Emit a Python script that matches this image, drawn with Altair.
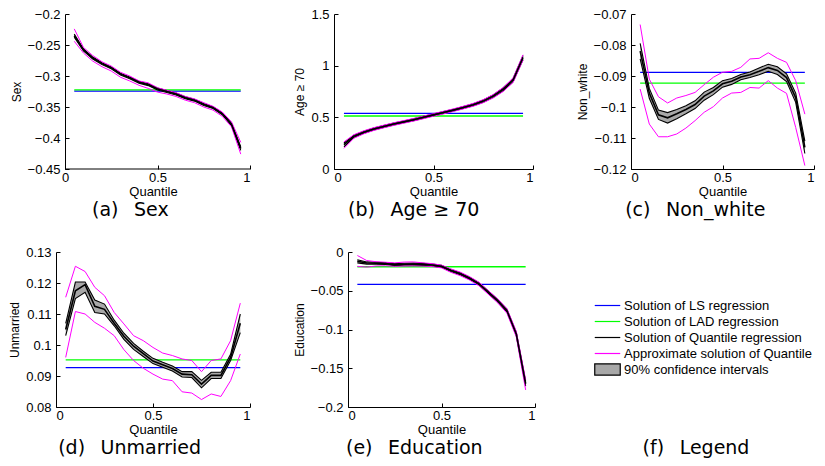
import altair as alt
import pandas as pd

Q = [0.05, 0.10, 0.15, 0.20, 0.25, 0.30, 0.35, 0.40, 0.45, 0.50,
     0.55, 0.60, 0.65, 0.70, 0.75, 0.80, 0.85, 0.90, 0.95]

# (a) Sex
SEX_C = [-0.235, -0.258, -0.271, -0.280, -0.287, -0.297, -0.303, -0.310, -0.314, -0.321,
         -0.325, -0.329, -0.335, -0.339, -0.346, -0.351, -0.361, -0.378, -0.417]
SEX_HI = [-0.2325, -0.2565, -0.2695, -0.2785, -0.2855, -0.2955, -0.3015, -0.3085, -0.3125, -0.3195,
          -0.3235, -0.3275, -0.3335, -0.3375, -0.3445, -0.3495, -0.3595, -0.3760, -0.4140]
SEX_LO = [-0.2375, -0.2595, -0.2725, -0.2815, -0.2885, -0.2985, -0.3045, -0.3115, -0.3155, -0.3225,
          -0.3265, -0.3305, -0.3365, -0.3405, -0.3475, -0.3525, -0.3625, -0.3800, -0.4200]
SEX_MHI = [-0.224, -0.254, -0.267, -0.277, -0.284, -0.294, -0.300, -0.308, -0.311, -0.319,
           -0.323, -0.327, -0.333, -0.337, -0.343, -0.349, -0.358, -0.374, -0.407]
SEX_MLO = [-0.244, -0.263, -0.276, -0.285, -0.292, -0.302, -0.308, -0.315, -0.320, -0.326,
           -0.329, -0.333, -0.339, -0.343, -0.350, -0.355, -0.365, -0.382, -0.426]
SEX_LS, SEX_LAD = -0.3245, -0.3223

# (b) Age >= 70
AGE_C = [0.235, 0.316, 0.356, 0.387, 0.412, 0.435, 0.456, 0.477, 0.500, 0.524,
         0.546, 0.570, 0.595, 0.622, 0.657, 0.705, 0.770, 0.860, 1.080]
AGE_HI = [0.252, 0.327, 0.366, 0.396, 0.421, 0.444, 0.465, 0.486, 0.509, 0.533,
          0.555, 0.579, 0.604, 0.632, 0.668, 0.717, 0.784, 0.876, 1.098]
AGE_LO = [0.215, 0.305, 0.346, 0.378, 0.403, 0.426, 0.447, 0.468, 0.491, 0.515,
          0.537, 0.561, 0.586, 0.612, 0.646, 0.693, 0.756, 0.844, 1.060]
AGE_MHI = [0.262, 0.332, 0.370, 0.400, 0.424, 0.447, 0.468, 0.489, 0.512, 0.536,
           0.558, 0.582, 0.607, 0.635, 0.671, 0.720, 0.788, 0.880, 1.105]
AGE_MLO = [0.200, 0.298, 0.341, 0.373, 0.399, 0.422, 0.443, 0.464, 0.487, 0.511,
           0.533, 0.557, 0.582, 0.608, 0.642, 0.688, 0.750, 0.838, 1.055]
AGE_LS, AGE_LAD = 0.539, 0.513

# (c) Non_white
NW_C = [-0.0820, -0.0955, -0.1025, -0.1035, -0.1022, -0.1008, -0.0992, -0.0965, -0.0948, -0.0925,
        -0.0917, -0.0903, -0.0896, -0.0885, -0.0873, -0.0882, -0.0905, -0.0970, -0.1130]
NW_HI = [-0.0795, -0.0940, -0.1010, -0.1018, -0.1008, -0.0996, -0.0980, -0.0952, -0.0937, -0.0915,
         -0.0908, -0.0895, -0.0887, -0.0874, -0.0862, -0.0870, -0.0893, -0.0955, -0.1110]
NW_LO = [-0.0845, -0.0972, -0.1040, -0.1052, -0.1038, -0.1022, -0.1005, -0.0978, -0.0960, -0.0936,
         -0.0927, -0.0912, -0.0905, -0.0896, -0.0885, -0.0895, -0.0918, -0.0985, -0.1150]
NW_MHI = [-0.0734, -0.0910, -0.0967, -0.0987, -0.0971, -0.0963, -0.0953, -0.0928, -0.0904, -0.0888,
          -0.0885, -0.0872, -0.0845, -0.0843, -0.0825, -0.0843, -0.0856, -0.0915, -0.1023]
NW_MLO = [-0.0942, -0.1055, -0.1096, -0.1096, -0.1087, -0.1068, -0.1044, -0.1017, -0.0999, -0.0971,
          -0.0955, -0.0953, -0.0937, -0.0939, -0.0915, -0.0939, -0.0956, -0.1066, -0.1189]
NW_LS, NW_LAD = -0.0888, -0.0923

# (d) Unmarried
UM_C = [0.1050, 0.1175, 0.1195, 0.1125, 0.1115, 0.1070, 0.1028, 0.0996, 0.0972, 0.0948,
        0.0936, 0.0924, 0.0906, 0.0904, 0.0874, 0.0902, 0.0902, 0.0960, 0.1070]
UM_HI = [0.1070, 0.1203, 0.1203, 0.1145, 0.1132, 0.1080, 0.1038, 0.1005, 0.0980, 0.0957,
         0.0944, 0.0932, 0.0914, 0.0914, 0.0886, 0.0912, 0.0912, 0.0970, 0.1100]
UM_LO = [0.1030, 0.1150, 0.1170, 0.1105, 0.1100, 0.1062, 0.1018, 0.0986, 0.0963, 0.0940,
         0.0928, 0.0916, 0.0897, 0.0895, 0.0862, 0.0892, 0.0892, 0.0950, 0.1040]
UM_MHI = [0.1154, 0.1254, 0.1237, 0.1186, 0.1159, 0.1105, 0.1068, 0.1030, 0.1014, 0.0992,
          0.0974, 0.0966, 0.0955, 0.0950, 0.0914, 0.0950, 0.0955, 0.1014, 0.1135]
UM_MLO = [0.0960, 0.1108, 0.1100, 0.1073, 0.1054, 0.1030, 0.0985, 0.0950, 0.0925, 0.0906,
          0.0890, 0.0885, 0.0849, 0.0845, 0.0824, 0.0842, 0.0834, 0.0885, 0.0971]
UM_LS, UM_LAD = 0.0927, 0.0952

# (e) Education
ED_C = [-0.0120, -0.0142, -0.0145, -0.0150, -0.0163, -0.0158, -0.0157, -0.0160, -0.0168, -0.0185,
        -0.0238, -0.0282, -0.0338, -0.0410, -0.0518, -0.0628, -0.0757, -0.1058, -0.1700]
ED_HI = [-0.0100, -0.0128, -0.0132, -0.0138, -0.0150, -0.0145, -0.0144, -0.0147, -0.0155, -0.0172,
         -0.0225, -0.0269, -0.0325, -0.0396, -0.0503, -0.0612, -0.0740, -0.1038, -0.1670]
ED_LO = [-0.0140, -0.0156, -0.0158, -0.0162, -0.0176, -0.0171, -0.0170, -0.0173, -0.0181, -0.0198,
         -0.0251, -0.0295, -0.0351, -0.0424, -0.0533, -0.0644, -0.0774, -0.1078, -0.1730]
ED_MHI = [-0.0045, -0.0110, -0.0125, -0.0132, -0.0140, -0.0130, -0.0128, -0.0140, -0.0150, -0.0170,
          -0.0218, -0.0260, -0.0318, -0.0390, -0.0498, -0.0605, -0.0732, -0.1025, -0.1650]
ED_MLO = [-0.0185, -0.0195, -0.0180, -0.0178, -0.0185, -0.0182, -0.0180, -0.0182, -0.0188, -0.0205,
          -0.0262, -0.0305, -0.0362, -0.0435, -0.0545, -0.0655, -0.0790, -0.1095, -0.1780]
ED_LS, ED_LAD = -0.0417, -0.0190

LEGEND_LABELS = ["Solution of LS regression", "Solution of LAD regression",
                 "Solution of Quantile regression", "Approximate solution of Quantile",
                 "90% confidence intervals"]

FONT = "Liberation Sans"
CAP_FONT = "DejaVu Sans"
BLUE, GREEN, MAGENTA, GRAY = "#0000ff", "#00ff00", "#ff00ff", "#a8a8a8"
SP = "\u2002 "
H = 155


def panel(ytitle, caption, c, hi, lo, mhi, mlo, ls, lad, ydom, yticks, w, h=H, pad=0):
    # pad: blank pixels kept left of the y axis inside the plot area (layout only)
    df = pd.DataFrame({"q": Q, "c": c, "hi": hi, "lo": lo, "mhi": mhi, "mlo": mlo})
    hdf = pd.DataFrame({"q0": [Q[0], Q[0]], "q1": [Q[-1], Q[-1]], "v": [ls, lad], "s": ["LS", "LAD"]})
    xs = alt.Scale(domain=[-pad / w, 1], nice=False, zero=False)
    ys = alt.Scale(domain=ydom, nice=False, zero=False)

    x_main = alt.X("q:Q", scale=xs, axis=alt.Axis(
        values=[0, 0.5, 1], format="~g", title="Quantile", ticks=False, tickSize=0,
        labelPadding=2, titlePadding=1, titleFontSize=13, domain=(pad == 0)))
    y_main = alt.Y("lo:Q", scale=ys, axis=alt.Axis(
        values=yticks, format="~g", title=ytitle, ticks=False, tickSize=0,
        labelPadding=5, titlePadding=4, titleFontSize=12, offset=-pad))
    x_tick = alt.X("q:Q", scale=xs, axis=alt.Axis(
        orient="top", offset=-h, values=[0, 0.5, 1], labels=False, domain=False,
        title=None, ticks=True, tickSize=4, tickColor="black", tickWidth=1))
    y_tick = alt.Y("c:Q", scale=ys, axis=alt.Axis(
        orient="right", offset=-w, values=yticks, labels=False, domain=False,
        title=None, ticks=True, tickSize=4, tickColor="black", tickWidth=1))

    xn = alt.X("q:Q", scale=xs, axis=None)

    def yn(f):
        return alt.Y(f, type="quantitative", scale=ys, axis=None)

    hlines = alt.Chart(hdf).mark_rule(strokeWidth=1.3).encode(
        x=alt.X("q0:Q", scale=xs, axis=None), x2="q1:Q",
        y=alt.Y("v:Q", scale=ys, axis=None),
        color=alt.Color("s:N", scale=alt.Scale(domain=["LS", "LAD"], range=[BLUE, GREEN]), legend=None))
    base = alt.Chart(df)
    band = base.mark_area(color=GRAY, opacity=1).encode(x=x_main, y=y_main, y2="hi:Q")
    lo_l = base.mark_line(color="black", strokeWidth=1.1).encode(x=xn, y=yn("lo"))
    hi_l = base.mark_line(color="black", strokeWidth=1.1).encode(x=xn, y=yn("hi"))
    mhi_l = base.mark_line(color=MAGENTA, strokeWidth=1).encode(x=xn, y=yn("mhi"))
    mlo_l = base.mark_line(color=MAGENTA, strokeWidth=1).encode(x=xn, y=yn("mlo"))
    c_l = base.mark_line(color="black", strokeWidth=1.6).encode(x=x_tick, y=y_tick)
    layers = [hlines, band, lo_l, hi_l, mhi_l, mlo_l, c_l]
    if pad:
        axdf = pd.DataFrame({"x0": [0], "x1": [1], "y0": [ydom[0]]})
        layers.append(alt.Chart(axdf).mark_rule(color="black", strokeWidth=1).encode(
            x=alt.X("x0:Q", scale=xs, axis=None), x2="x1:Q",
            y=alt.Y("y0:Q", scale=ys, axis=None)))

    return alt.layer(*layers).resolve_axis(
        x="independent", y="independent").properties(
        width=w + pad, height=h,
        title=alt.TitleParams(caption, orient="bottom", anchor="middle", frame="bounds", offset=3))


pa = panel("Sex", "(a)" + SP + "Sex", SEX_C, SEX_HI, SEX_LO, SEX_MHI, SEX_MLO, SEX_LS, SEX_LAD,
           [-0.45, -0.2], [-0.45, -0.4, -0.35, -0.3, -0.25, -0.2], 185, pad=9)
pb = panel("Age \u2265 70", "(b)" + SP + "Age \u2265 70", AGE_C, AGE_HI, AGE_LO, AGE_MHI, AGE_MLO,
           AGE_LS, AGE_LAD, [0, 1.5], [0, 0.5, 1, 1.5], 199)
pc = panel("Non_white", "(c)" + SP + "Non_white", NW_C, NW_HI, NW_LO, NW_MHI, NW_MLO, NW_LS, NW_LAD,
           [-0.12, -0.07], [-0.12, -0.11, -0.1, -0.09, -0.08, -0.07], 183)
pd_ = panel("Unmarried", "(d)" + SP + "Unmarried", UM_C, UM_HI, UM_LO, UM_MHI, UM_MLO, UM_LS, UM_LAD,
            [0.08, 0.13], [0.08, 0.09, 0.1, 0.11, 0.12, 0.13], 194)
pe = panel("Education", "(e)" + SP + "Education", ED_C, ED_HI, ED_LO, ED_MHI, ED_MLO, ED_LS, ED_LAD,
           [-0.2, 0], [-0.2, -0.15, -0.1, -0.05, 0], 187)

leg_df = pd.DataFrame({"s": LEGEND_LABELS})
LINE_SYM = "M-1.7,0H1.7"
RECT_SYM = "M-1.7,-0.75H1.7V0.75H-1.7Z"
leg_props = dict(title=None, orient="none", legendX=21, legendY=45, symbolSize=225,
                 symbolStrokeWidth=1.2, symbolOpacity=1, labelFont=FONT, labelFontSize=13,
                 labelColor="black", labelOffset=8, rowPadding=0, padding=0, labelLimit=400)
pf = alt.Chart(leg_df).mark_point(filled=True, opacity=0).encode(
    fill=alt.Fill("s:N", scale=alt.Scale(domain=LEGEND_LABELS,
                                         range=[BLUE, GREEN, "#000000", MAGENTA, GRAY]),
                  legend=alt.Legend(**leg_props)),
    stroke=alt.Stroke("s:N", scale=alt.Scale(domain=LEGEND_LABELS,
                                             range=[BLUE, GREEN, "#000000", MAGENTA, "#000000"]),
                      legend=alt.Legend(**leg_props)),
    shape=alt.Shape("s:N", scale=alt.Scale(domain=LEGEND_LABELS,
                                           range=[LINE_SYM, LINE_SYM, LINE_SYM, LINE_SYM, RECT_SYM]),
                    legend=alt.Legend(**leg_props)),
).properties(width=236, height=H,
             title=alt.TitleParams("(f)" + SP + "Legend", orient="bottom", anchor="middle",
                                   frame="bounds", offset=32))

row1 = alt.hconcat(pa, pb, pc, spacing=42)
row2 = alt.hconcat(pd_, pe, pf, spacing=42).resolve_scale(
    fill="independent", stroke="independent", shape="independent").resolve_legend(
    fill="independent", stroke="independent", shape="independent")
chart = alt.concat(row1, row2, columns=1, spacing=26, align="none").resolve_scale(
    fill="independent", stroke="independent", shape="independent").resolve_legend(
    fill="independent", stroke="independent", shape="independent").properties(
    padding=0).configure_view(stroke=None).configure_axis(
    labelFont=FONT, labelFontSize=13, labelColor="black", titleFont=FONT,
    titleFontWeight="normal", titleColor="black", domainColor="black", domainWidth=1,
    grid=False).configure_title(font=CAP_FONT, fontSize=19, fontWeight="normal", color="black")

chart.save("out.html", embed_options={"renderer": "svg", "actions": False})
